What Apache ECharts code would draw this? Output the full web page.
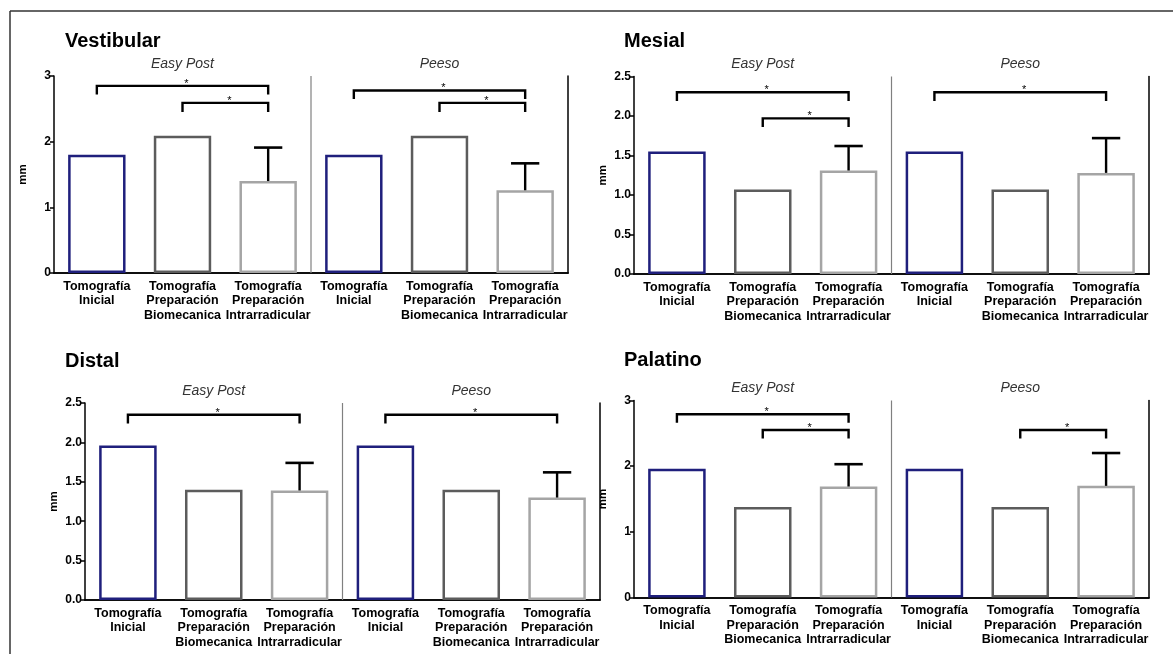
<!DOCTYPE html>
<html>
<head>
<meta charset="utf-8">
<script src="https://cdn.jsdelivr.net/npm/echarts@6/dist/echarts.min.js"></script>
<style>html,body{margin:0;padding:0;background:#fff}#c{width:1173px;height:654px}</style>
</head>
<body>
<div id="c"></div>
<script>
// ---- data ----
const categories = [
  'Tomografía\nInicial', 'Tomografía\nPreparación\nBiomecanica', 'Tomografía\nPreparación\nIntrarradicular',
  'Tomografía\nInicial', 'Tomografía\nPreparación\nBiomecanica', 'Tomografía\nPreparación\nIntrarradicular'
];
const groups = ['Easy Post', 'Peeso'];
const panelTitles = ['Vestibular', 'Mesial', 'Distal', 'Palatino'];
const yMaxes = [3, 2.5, 2.5, 3];
const yIntervals = [1, 0.5, 0.5, 1];

// bar means
const vestibularMeans = [1.80, 2.09, 1.40, 1.80, 2.09, 1.26];
const mesialMeans     = [1.55, 1.07, 1.31, 1.55, 1.07, 1.28];
const distalMeans     = [1.96, 1.40, 1.39, 1.96, 1.40, 1.30];
const palatinoMeans   = [1.96, 1.38, 1.69, 1.96, 1.38, 1.70];

// upper end of error bars (null = no error bar)
const vestibularErrTop = [null, null, 1.91, null, null, 1.67];
const mesialErrTop     = [null, null, 1.62, null, null, 1.72];
const distalErrTop     = [null, null, 1.74, null, null, 1.62];
const palatinoErrTop   = [null, null, 2.03, null, null, 2.20];

// significance brackets: [fromCategory, toCategory, lineLevel, legEndLevel]
const vestibularBrackets = [[0, 2, 2.85, 2.72], [1, 2, 2.59, 2.45], [3, 5, 2.78, 2.65], [4, 5, 2.59, 2.45]];
const mesialBrackets     = [[0, 2, 2.30, 2.19], [1, 2, 1.97, 1.86], [3, 5, 2.30, 2.19]];
const distalBrackets     = [[0, 2, 2.35, 2.24], [3, 5, 2.35, 2.24]];
const palatinoBrackets   = [[0, 2, 2.79, 2.66], [1, 2, 2.55, 2.42], [4, 5, 2.55, 2.42]];

const panelMeans = [vestibularMeans, mesialMeans, distalMeans, palatinoMeans];
const panelErr = [vestibularErrTop, mesialErrTop, distalErrTop, palatinoErrTop];
const panelBrackets = [vestibularBrackets, mesialBrackets, distalBrackets, palatinoBrackets];

// ---- styling / layout ----
const barColors = ['#1f1f7c', '#5c5c5c', '#a5a5a5'];
const gridsLayout = [
  {left: 54, top: 76, width: 514, height: 197},
  {left: 634, top: 76.5, width: 515, height: 197.5},
  {left: 85, top: 403, width: 515, height: 197},
  {left: 634, top: 400.5, width: 515, height: 197}
];
const titlePos = [[65, 31], [624, 31], [65, 351], [624, 350]];
const FONT = 'Liberation Sans, Arial, sans-serif';

const chart = echarts.init(document.getElementById('c'));

const grid = [], xAxis = [], yAxis = [], series = [], title = [];

panelTitles.forEach((t, p) => {
  grid.push(Object.assign({containLabel: false}, gridsLayout[p]));
  title.push({text: t, left: titlePos[p][0], top: titlePos[p][1], padding: 0,
    textStyle: {fontSize: 20, fontWeight: 'bold', color: '#000', fontFamily: FONT}});

  xAxis.push({
    gridIndex: p, type: 'category', data: categories, position: 'bottom',
    axisLine: {lineStyle: {color: '#000', width: 1.5}},
    axisTick: {alignWithLabel: true, interval: 0, length: 4, lineStyle: {color: '#000', width: 1.5}},
    axisLabel: {interval: 0, fontWeight: 'bold', fontSize: 12.5, color: '#000', lineHeight: 14.5, margin: 6, fontFamily: FONT}
  });
  xAxis.push({
    gridIndex: p, type: 'category', data: groups, position: 'top',
    axisLine: {show: true, lineStyle: {color: '#000', width: 1.5}},
    axisTick: {show: false},
    axisLabel: {fontStyle: 'italic', fontSize: 14, color: '#333', margin: 5, fontFamily: FONT}
  });
  xAxis.push({gridIndex: p, type: 'value', min: 0, max: 6, show: false});

  const intv = yIntervals[p];
  yAxis.push({
    gridIndex: p, type: 'value', min: 0, max: yMaxes[p], interval: intv,
    axisLine: {show: true, lineStyle: {color: '#000', width: 1.5}},
    axisTick: {show: true, length: 4, lineStyle: {color: '#000', width: 1.5}},
    splitLine: {show: false},
    axisLabel: {fontWeight: 'bold', fontSize: 12, color: '#000', margin: 3, fontFamily: FONT,
      formatter: v => intv < 1 ? v.toFixed(1) : String(v)},
    name: 'mm', nameLocation: 'middle', nameGap: 25,
    nameTextStyle: {color: '#000', fontSize: 11.5, fontWeight: 'bold', fontFamily: FONT}
  });
  yAxis.push({
    gridIndex: p, type: 'value', min: 0, max: yMaxes[p], position: 'right',
    axisLine: {show: true, lineStyle: {color: '#000', width: 1.5}},
    axisTick: {show: false}, axisLabel: {show: false}, splitLine: {show: false}
  });

  // bars
  series.push({
    type: 'bar', xAxisIndex: 3 * p, yAxisIndex: 2 * p, barWidth: '67%', z: 2,
    data: panelMeans[p].map((v, i) => ({value: v, itemStyle: {borderColor: barColors[i % 3]}})),
    itemStyle: {color: '#fff', borderWidth: 2.5}
  });

  // error bars
  const errData = [];
  panelErr[p].forEach((top, i) => { if (top != null) errData.push([i, panelMeans[p][i], top]); });
  series.push({
    type: 'custom', xAxisIndex: 3 * p, yAxisIndex: 2 * p, z: 4,
    data: errData,
    renderItem: (params, api) => {
      const i = api.value(0);
      const lo = api.coord([i, api.value(1)]);
      const hi = api.coord([i, api.value(2)]);
      const cw = api.size([1, 0])[0] * 0.33;
      return {type: 'group', children: [
        {type: 'line', shape: {x1: lo[0], y1: lo[1], x2: hi[0], y2: hi[1]}, style: {stroke: '#000', lineWidth: 2.4}},
        {type: 'line', shape: {x1: hi[0] - cw / 2, y1: hi[1], x2: hi[0] + cw / 2, y2: hi[1]}, style: {stroke: '#000', lineWidth: 2.6}}
      ]};
    }
  });

  // brackets with stars
  series.push({
    type: 'custom', xAxisIndex: 3 * p + 2, yAxisIndex: 2 * p, z: 5,
    data: panelBrackets[p],
    renderItem: (params, api) => {
      const a = api.value(0) + 0.5, b = api.value(1) + 0.5;
      const lv = api.value(2), le = api.value(3);
      const p1 = api.coord([a, le]), p2 = api.coord([a, lv]), p3 = api.coord([b, lv]), p4 = api.coord([b, le]);
      return {type: 'group', children: [
        {type: 'polyline', shape: {points: [p1, p2, p3, p4]}, style: {stroke: '#000', lineWidth: 2.4, fill: null}},
        {type: 'text', x: (p2[0] + p3[0]) / 2 + 4, y: p2[1] - 2,
          style: {text: '*', fontSize: 11, fill: '#000', align: 'center', verticalAlign: 'middle', fontFamily: FONT}}
      ]};
    }
  });

  // group divider
  series.push({
    type: 'custom', xAxisIndex: 3 * p + 2, yAxisIndex: 2 * p, z: 1,
    data: [[3]],
    renderItem: (params, api) => {
      const x = api.value(0);
      const s = api.coord([x, 0]), e = api.coord([x, yMaxes[p]]);
      return {type: 'line', shape: {x1: s[0], y1: s[1], x2: e[0], y2: e[1]}, style: {stroke: '#808080', lineWidth: 1.2}};
    }
  });
});

chart.setOption({
  animation: false,
  backgroundColor: '#fff',
  textStyle: {fontFamily: FONT},
  title, grid, xAxis, yAxis, series,
  graphic: [
    {type: 'line', shape: {x1: 10, y1: 11, x2: 1173, y2: 11}, style: {stroke: '#333', lineWidth: 1.5}},
    {type: 'line', shape: {x1: 10, y1: 11, x2: 10, y2: 654}, style: {stroke: '#333', lineWidth: 1.5}}
  ]
});
</script>
</body>
</html>
